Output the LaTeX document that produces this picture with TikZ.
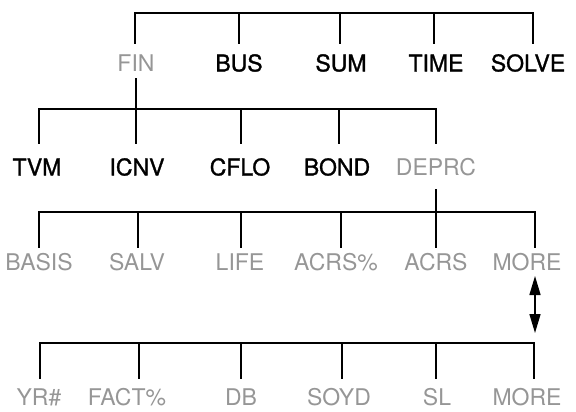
\documentclass[tikz,border=0pt]{standalone}
\usepackage{fontspec}
\setmainfont{TeX Gyre Heros}
\newfontfamily\medfont[FakeBold=1.2]{TeX Gyre Heros}
\usetikzlibrary{arrows.meta}
\definecolor{softgray}{RGB}{150,150,150}
\tikzset{
  key/.style={inner sep=0pt, font=\fontsize{23}{25}\medfont, text=black},
  softkey/.style={inner sep=0pt, font=\fontsize{23}{25}\selectfont, text=softgray},
  tree/.style={line width=2pt, line cap=rect},
  twoway/.style={line width=1.5pt, {Triangle[length=19pt,width=11pt]}-{Triangle[length=19pt,width=11pt]}}
}
\begin{document}
\begin{tikzpicture}[x=1pt,y=-1pt]
\useasboundingbox (0,0) rectangle (576,412);
% ---------- row 1 ----------
\node[softkey] (FIN)   at (136,63) {FIN};
\node[key]     (BUS)   at (239,63) {BUS};
\node[key]     (SUM)   at (341,63) {SUM};
\node[key]     (TIME)  at (436,63) {TIME};
\node[key]     (SOLVE) at (528,63) {SOLVE};
\coordinate (a1) at (135,13); \coordinate (a2) at (239,13); \coordinate (a3) at (340,13);
\coordinate (a4) at (434,13); \coordinate (a5) at (533,13);
\coordinate (d1) at (135,43); \coordinate (d2) at (239,43); \coordinate (d3) at (340,43);
\coordinate (d4) at (434,43); \coordinate (d5) at (533,43);
\draw[tree] (d1) -- (a1) -- (a5) -- (d5);
\draw[tree] (a2) -- (d2);
\draw[tree] (a3) -- (d3);
\draw[tree] (a4) -- (d4);
% ---------- row 2 ----------
\node[key] (TVM)   at (37,167)  {TVM};
\node[key] (ICNV)  at (137,167) {ICNV};
\node[key] (CFLO)  at (240,167) {CFLO};
\node[key] (BOND)  at (337,167) {BOND};
\node[softkey] (DEPRC) at (436,167) {DEPRC};
\coordinate (f0) at (136,79);
\coordinate (b1) at (39,109);  \coordinate (b2) at (136,109); \coordinate (b3) at (241,109);
\coordinate (b4) at (339,109); \coordinate (b5) at (436,109);
\coordinate (e1) at (39,143);  \coordinate (e2) at (136,143); \coordinate (e3) at (241,143);
\coordinate (e4) at (339,143); \coordinate (e5) at (436,143);
\draw[tree] (f0) -- (b2);
\draw[tree] (e1) -- (b1) -- (b5) -- (e5);
\draw[tree] (b2) -- (e2);
\draw[tree] (b3) -- (e3);
\draw[tree] (b4) -- (e4);
% ---------- row 3 ----------
\node[softkey] (BASIS) at (39,262)  {BASIS};
\node[softkey] (SALV)  at (137,262) {SALV};
\node[softkey] (LIFE)  at (240,262) {LIFE};
\node[softkey] (ACRSP) at (336,262) {ACRS\%};
\node[softkey] (ACRS)  at (436,262) {ACRS};
\node[softkey] (MORE1) at (527,262) {MORE};
\coordinate (g0) at (436,190);
\coordinate (c1) at (39,212);  \coordinate (c2) at (138,212); \coordinate (c3) at (241,212);
\coordinate (c4) at (341,212); \coordinate (c5) at (436,212); \coordinate (c6) at (535,212);
\coordinate (h1) at (39,247);  \coordinate (h2) at (138,247); \coordinate (h3) at (241,247);
\coordinate (h4) at (341,247); \coordinate (h5) at (436,247); \coordinate (h6) at (535,247);
\draw[tree] (g0) -- (c5);
\draw[tree] (h1) -- (c1) -- (c6) -- (h6);
\draw[tree] (c2) -- (h2);
\draw[tree] (c3) -- (h3);
\draw[tree] (c4) -- (h4);
\draw[tree] (c5) -- (h5);
% ---------- arrow ----------
\coordinate (u1) at (535,276);
\coordinate (u2) at (535,333);
\draw[twoway] (u1) -- (u2);
% ---------- row 4 ----------
\node[softkey] (YR)    at (39,397)  {YR\#};
\node[softkey] (FACT)  at (127,397) {FACT\%};
\node[softkey] (DB)    at (241,397) {DB};
\node[softkey] (SOYD)  at (339,397) {SOYD};
\node[softkey] (SL)    at (437,397) {SL};
\node[softkey] (MORE2) at (527,397) {MORE};
\coordinate (k1) at (40,343);  \coordinate (k2) at (139,343); \coordinate (k3) at (241,343);
\coordinate (k4) at (342,343); \coordinate (k5) at (436,343); \coordinate (k6) at (534,343);
\coordinate (m1) at (40,378);  \coordinate (m2) at (139,378); \coordinate (m3) at (241,378);
\coordinate (m4) at (342,378); \coordinate (m5) at (436,378); \coordinate (m6) at (534,378);
\draw[tree] (m1) -- (k1) -- (k6) -- (m6);
\draw[tree] (k2) -- (m2);
\draw[tree] (k3) -- (m3);
\draw[tree] (k4) -- (m4);
\draw[tree] (k5) -- (m5);
\end{tikzpicture}
\end{document}
